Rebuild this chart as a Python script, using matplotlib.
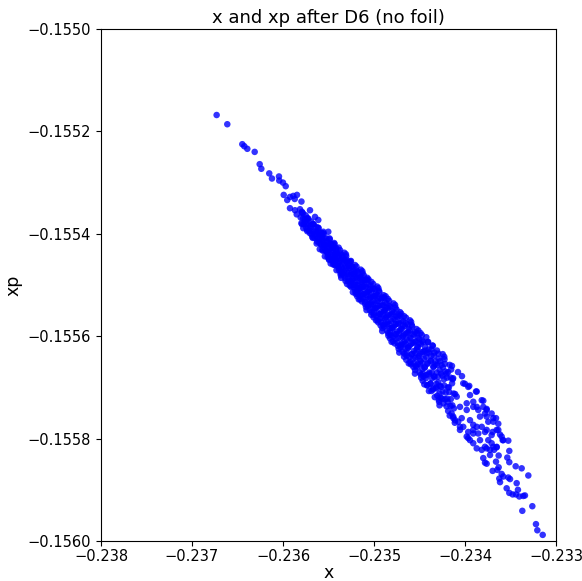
import matplotlib
matplotlib.use("Agg")
import matplotlib.pyplot as plt
from matplotlib.ticker import MultipleLocator, FuncFormatter

# particles in the sparse upper-left head of the distribution
x_head = [-0.236729, -0.236612, -0.236447, -0.236425, -0.236392, -0.236311,
          -0.236256, -0.236238, -0.236151, -0.236121, -0.236044, -0.236041,
          -0.236000, -0.235970, -0.235992, -0.235953, -0.235923, -0.235887,
          -0.235846, -0.235871, -0.235923, -0.235868, -0.235849, -0.235813,
          -0.235797, -0.235777, -0.235703, -0.235648, -0.235703, -0.235612,
          -0.235557, -0.235502]
y_head = [-0.155168, -0.155186, -0.155225, -0.155229, -0.155234, -0.155240,
          -0.155264, -0.155273, -0.155282, -0.155292, -0.155288, -0.155296,
          -0.155300, -0.155307, -0.155324, -0.155334, -0.155328, -0.155326,
          -0.155324, -0.155332, -0.155350, -0.155354, -0.155362, -0.155352,
          -0.155337, -0.155389, -0.155399, -0.155367, -0.155354, -0.155373,
          -0.155396, -0.155396]

# dense core of the band
x_core = [
    -0.235792, -0.235806, -0.235797, -0.235780, -0.235758, -0.235772,
    -0.235732, -0.235746, -0.235737, -0.235720, -0.235698, -0.235712,
    -0.235672, -0.235686, -0.235677, -0.235660, -0.235638, -0.235652,
    -0.235612, -0.235626, -0.235617, -0.235630,
    -0.235578, -0.235592, -0.235582, -0.235596,
    -0.235557, -0.235570, -0.235548, -0.235562,
    -0.235522, -0.235536, -0.235527, -0.235540,
    -0.235488, -0.235502, -0.235492, -0.235506, -0.235497,
    -0.235480, -0.235458, -0.235472, -0.235462, -0.235476,
    -0.235437, -0.235450, -0.235428, -0.235442, -0.235432,
    -0.235416, -0.235407, -0.235420, -0.235398, -0.235412,
    -0.235372, -0.235386, -0.235377, -0.235390, -0.235368,
    -0.235352, -0.235342, -0.235356, -0.235347, -0.235360,
    -0.235308, -0.235322, -0.235312, -0.235326, -0.235317,
    -0.235300, -0.235278, -0.235292, -0.235282, -0.235296,
    -0.235257, -0.235270, -0.235248, -0.235262, -0.235252,
    -0.235236, -0.235227, -0.235240, -0.235218, -0.235232,
    -0.235192, -0.235206, -0.235197, -0.235210, -0.235188, -0.235202,
    -0.235180, -0.235158, -0.235172, -0.235162, -0.235176, -0.235167,
    -0.235128, -0.235142, -0.235132, -0.235146, -0.235137, -0.235150,
    -0.235112, -0.235102, -0.235116, -0.235107, -0.235120, -0.235098,
    -0.235072, -0.235086, -0.235077, -0.235090, -0.235068, -0.235082,
    -0.235060, -0.235038, -0.235052, -0.235042, -0.235056, -0.235047,
    -0.235008, -0.235022, -0.235012, -0.235026, -0.235017, -0.235030,
    -0.234992, -0.234982, -0.234996, -0.234987, -0.235000, -0.234978,
    -0.234952, -0.234966, -0.234957, -0.234970, -0.234948, -0.234962,
    -0.234940, -0.234918, -0.234932, -0.234922, -0.234936, -0.234927,
    -0.234888, -0.234902, -0.234892, -0.234906, -0.234897, -0.234910,
    -0.234872, -0.234862, -0.234876, -0.234867, -0.234880, -0.234858,
    -0.234832, -0.234846, -0.234837, -0.234850, -0.234828, -0.234842,
    -0.234820, -0.234798, -0.234812, -0.234802, -0.234816, -0.234807,
    -0.234768, -0.234782, -0.234772, -0.234786, -0.234777, -0.234790,
    -0.234752, -0.234742, -0.234756, -0.234747, -0.234760, -0.234738,
    -0.234712, -0.234726, -0.234717, -0.234730, -0.234708, -0.234722,
    -0.234700, -0.234678, -0.234692, -0.234682, -0.234696, -0.234687,
    -0.234648, -0.234662, -0.234652, -0.234666, -0.234657, -0.234670,
    -0.234632, -0.234622, -0.234636, -0.234627, -0.234640, -0.234618,
    -0.234592, -0.234606, -0.234597, -0.234610, -0.234588, -0.234602,
    -0.234580, -0.234558, -0.234572, -0.234562, -0.234576, -0.234567,
    -0.234528, -0.234542, -0.234532, -0.234546, -0.234537, -0.234550,
    -0.234512, -0.234502, -0.234516, -0.234507, -0.234520, -0.234498,
    -0.234472, -0.234486, -0.234477, -0.234490, -0.234468, -0.234482,
    -0.234460, -0.234438, -0.234452, -0.234442, -0.234456, -0.234447,
    -0.234408, -0.234422, -0.234412, -0.234426, -0.234417,
    -0.234400, -0.234378, -0.234392, -0.234382, -0.234396,
    -0.234357, -0.234370, -0.234348, -0.234362, -0.234352,
    -0.234336, -0.234327, -0.234340, -0.234318, -0.234332,
    -0.234292, -0.234306, -0.234297, -0.234310, -0.234288,
    -0.234272, -0.234262, -0.234276, -0.234267, -0.234280,
    -0.234228, -0.234242, -0.234232, -0.234246, -0.234237,
    -0.234220, -0.234198, -0.234212, -0.234202,
    -0.234186, -0.234177, -0.234190, -0.234168,
    -0.234152, -0.234142, -0.234156, -0.234147,
    -0.234130, -0.234108, -0.234122, -0.234112,
]
y_core = [
    -0.155357, -0.155368, -0.155379, -0.155360, -0.155371, -0.155381,
    -0.155369, -0.155381, -0.155392, -0.155371, -0.155384, -0.155394,
    -0.155381, -0.155394, -0.155406, -0.155382, -0.155396, -0.155408,
    -0.155388, -0.155398, -0.155409, -0.155419,
    -0.155398, -0.155409, -0.155420, -0.155430,
    -0.155399, -0.155410, -0.155422, -0.155433,
    -0.155409, -0.155422, -0.155433, -0.155444,
    -0.155409, -0.155419, -0.155429, -0.155440, -0.155449,
    -0.155419, -0.155430, -0.155441, -0.155451, -0.155458,
    -0.155418, -0.155428, -0.155439, -0.155449, -0.155460,
    -0.155428, -0.155439, -0.155451, -0.155462, -0.155471,
    -0.155432, -0.155443, -0.155454, -0.155466, -0.155477,
    -0.155442, -0.155454, -0.155466, -0.155478, -0.155486,
    -0.155440, -0.155451, -0.155463, -0.155475, -0.155487,
    -0.155451, -0.155463, -0.155476, -0.155488, -0.155498,
    -0.155454, -0.155467, -0.155479, -0.155492, -0.155504,
    -0.155465, -0.155479, -0.155492, -0.155505, -0.155514,
    -0.155464, -0.155475, -0.155485, -0.155496, -0.155506, -0.155517,
    -0.155474, -0.155485, -0.155496, -0.155507, -0.155518, -0.155528,
    -0.155473, -0.155484, -0.155495, -0.155506, -0.155517, -0.155528,
    -0.155481, -0.155492, -0.155503, -0.155515, -0.155526, -0.155537,
    -0.155491, -0.155503, -0.155515, -0.155526, -0.155538, -0.155549,
    -0.155489, -0.155501, -0.155513, -0.155525, -0.155537, -0.155549,
    -0.155498, -0.155510, -0.155522, -0.155534, -0.155546, -0.155558,
    -0.155508, -0.155521, -0.155533, -0.155545, -0.155558, -0.155569,
    -0.155506, -0.155519, -0.155531, -0.155544, -0.155556, -0.155569,
    -0.155514, -0.155527, -0.155540, -0.155553, -0.155566, -0.155579,
    -0.155525, -0.155539, -0.155552, -0.155565, -0.155578, -0.155590,
    -0.155522, -0.155536, -0.155549, -0.155563, -0.155576, -0.155589,
    -0.155531, -0.155545, -0.155558, -0.155572, -0.155585, -0.155599,
    -0.155543, -0.155556, -0.155570, -0.155584, -0.155598, -0.155611,
    -0.155539, -0.155553, -0.155567, -0.155582, -0.155595, -0.155610,
    -0.155548, -0.155562, -0.155576, -0.155591, -0.155605, -0.155619,
    -0.155560, -0.155574, -0.155589, -0.155603, -0.155618, -0.155632,
    -0.155556, -0.155571, -0.155585, -0.155600, -0.155615, -0.155630,
    -0.155564, -0.155580, -0.155595, -0.155610, -0.155625, -0.155640,
    -0.155577, -0.155592, -0.155607, -0.155623, -0.155638, -0.155653,
    -0.155572, -0.155588, -0.155603, -0.155619, -0.155635, -0.155651,
    -0.155581, -0.155597, -0.155613, -0.155629, -0.155645, -0.155660,
    -0.155594, -0.155610, -0.155626, -0.155642, -0.155658, -0.155673,
    -0.155589, -0.155605, -0.155621, -0.155638, -0.155654, -0.155671,
    -0.155598, -0.155615, -0.155631, -0.155648, -0.155664, -0.155681,
    -0.155611, -0.155628, -0.155644, -0.155661, -0.155678, -0.155694,
    -0.155612, -0.155633, -0.155654, -0.155676, -0.155696,
    -0.155626, -0.155648, -0.155671, -0.155693, -0.155707,
    -0.155618, -0.155638, -0.155660, -0.155682, -0.155704,
    -0.155632, -0.155655, -0.155678, -0.155700, -0.155719,
    -0.155634, -0.155656, -0.155679, -0.155702, -0.155724,
    -0.155649, -0.155673, -0.155697, -0.155720, -0.155735,
    -0.155640, -0.155661, -0.155684, -0.155708, -0.155731,
    -0.155654, -0.155681, -0.155710, -0.155737,
    -0.155670, -0.155700, -0.155728, -0.155755,
    -0.155665, -0.155692, -0.155723, -0.155751,
    -0.155682, -0.155713, -0.155741, -0.155769,
]

# second, interleaved set of particles in the core
x_mid = [
    -0.235789, -0.235778, -0.235793, -0.235750, -0.235755, -0.235745,
    -0.235729, -0.235718, -0.235733, -0.235690, -0.235695, -0.235685,
    -0.235669, -0.235658, -0.235673, -0.235630, -0.235635, -0.235625,
    -0.235609, -0.235598, -0.235613, -0.235600,
    -0.235575, -0.235565, -0.235579, -0.235568,
    -0.235553, -0.235540, -0.235545, -0.235535,
    -0.235519, -0.235508, -0.235523, -0.235510,
    -0.235485, -0.235475, -0.235489, -0.235478, -0.235493,
    -0.235450, -0.235455, -0.235445, -0.235459, -0.235448,
    -0.235433, -0.235420, -0.235425, -0.235415, -0.235429,
    -0.235388, -0.235403, -0.235390, -0.235395, -0.235385,
    -0.235369, -0.235358, -0.235373, -0.235360, -0.235365,
    -0.235325, -0.235339, -0.235328, -0.235343, -0.235330,
    -0.235305, -0.235295, -0.235309, -0.235298, -0.235313,
    -0.235270, -0.235275, -0.235265, -0.235279, -0.235268,
    -0.235253, -0.235240, -0.235245, -0.235235, -0.235249,
    -0.235208, -0.235223, -0.235210, -0.235215, -0.235205,
    -0.235189, -0.235178, -0.235193, -0.235180, -0.235185,
    -0.235145, -0.235159, -0.235148, -0.235163, -0.235150,
    -0.235125, -0.235115, -0.235129, -0.235118, -0.235133,
    -0.235090, -0.235095, -0.235085, -0.235099, -0.235088,
    -0.235073, -0.235060, -0.235065, -0.235055, -0.235069,
    -0.235028, -0.235043, -0.235030, -0.235035, -0.235025,
    -0.235009, -0.234998, -0.235013, -0.235000, -0.235005,
    -0.234965, -0.234979, -0.234968, -0.234983, -0.234970,
    -0.234945, -0.234935, -0.234949, -0.234938, -0.234953,
    -0.234910, -0.234915, -0.234905, -0.234919, -0.234908,
    -0.234893, -0.234880, -0.234885, -0.234875, -0.234889,
    -0.234848, -0.234863, -0.234850, -0.234855, -0.234845,
    -0.234829, -0.234818, -0.234833, -0.234820, -0.234825,
    -0.234785, -0.234799, -0.234788, -0.234803, -0.234790,
    -0.234765, -0.234755, -0.234769, -0.234758, -0.234773,
    -0.234730, -0.234735, -0.234725, -0.234739, -0.234728,
    -0.234713, -0.234700, -0.234705, -0.234695, -0.234709,
    -0.234668, -0.234683, -0.234670, -0.234675, -0.234665,
    -0.234649, -0.234638, -0.234653, -0.234640, -0.234645,
    -0.234605, -0.234619, -0.234608, -0.234623, -0.234610,
    -0.234585, -0.234575, -0.234589, -0.234578, -0.234593,
    -0.234550, -0.234555, -0.234545, -0.234559, -0.234548,
    -0.234533, -0.234520, -0.234525, -0.234515, -0.234529,
    -0.234488, -0.234503, -0.234490, -0.234495, -0.234485,
    -0.234469, -0.234458, -0.234473, -0.234460, -0.234465,
    -0.234425, -0.234439, -0.234428, -0.234443, -0.234430,
    -0.234405, -0.234395, -0.234409, -0.234398, -0.234413,
    -0.234370, -0.234375, -0.234365, -0.234379, -0.234368,
    -0.234353, -0.234340, -0.234345, -0.234335, -0.234349,
    -0.234308, -0.234323, -0.234310, -0.234315, -0.234305,
    -0.234289, -0.234278, -0.234293, -0.234280, -0.234285,
    -0.234245, -0.234259, -0.234248, -0.234263, -0.234250,
    -0.234225, -0.234215, -0.234229, -0.234218,
    -0.234203, -0.234190, -0.234195, -0.234185,
    -0.234169, -0.234158, -0.234173, -0.234160,
    -0.234135, -0.234125, -0.234139, -0.234128,
]
y_mid = [
    -0.155359, -0.155370, -0.155381, -0.155364, -0.155376, -0.155388,
    -0.155370, -0.155382, -0.155395, -0.155376, -0.155388, -0.155401,
    -0.155381, -0.155395, -0.155408, -0.155387, -0.155401, -0.155415,
    -0.155389, -0.155398, -0.155408, -0.155418,
    -0.155403, -0.155413, -0.155422, -0.155431,
    -0.155400, -0.155410, -0.155421, -0.155432,
    -0.155415, -0.155426, -0.155435, -0.155445,
    -0.155411, -0.155420, -0.155430, -0.155441, -0.155451,
    -0.155421, -0.155432, -0.155443, -0.155453, -0.155460,
    -0.155420, -0.155430, -0.155440, -0.155450, -0.155461,
    -0.155427, -0.155438, -0.155449, -0.155460, -0.155471,
    -0.155438, -0.155450, -0.155462, -0.155473, -0.155481,
    -0.155437, -0.155447, -0.155458, -0.155469, -0.155481,
    -0.155444, -0.155456, -0.155467, -0.155479, -0.155492,
    -0.155455, -0.155468, -0.155481, -0.155493, -0.155501,
    -0.155453, -0.155464, -0.155476, -0.155488, -0.155501,
    -0.155461, -0.155473, -0.155486, -0.155499, -0.155512,
    -0.155472, -0.155486, -0.155500, -0.155513, -0.155522,
    -0.155470, -0.155482, -0.155494, -0.155507, -0.155521,
    -0.155477, -0.155491, -0.155504, -0.155518, -0.155532,
    -0.155489, -0.155504, -0.155519, -0.155533, -0.155543,
    -0.155486, -0.155499, -0.155513, -0.155527, -0.155541,
    -0.155494, -0.155508, -0.155523, -0.155538, -0.155553,
    -0.155507, -0.155522, -0.155538, -0.155553, -0.155563,
    -0.155503, -0.155517, -0.155531, -0.155546, -0.155561,
    -0.155511, -0.155526, -0.155541, -0.155557, -0.155573,
    -0.155524, -0.155540, -0.155557, -0.155573, -0.155584,
    -0.155520, -0.155534, -0.155549, -0.155565, -0.155581,
    -0.155527, -0.155544, -0.155560, -0.155577, -0.155594,
    -0.155541, -0.155558, -0.155576, -0.155593, -0.155604,
    -0.155536, -0.155551, -0.155567, -0.155584, -0.155601,
    -0.155544, -0.155561, -0.155578, -0.155596, -0.155614,
    -0.155558, -0.155576, -0.155595, -0.155613, -0.155625,
    -0.155553, -0.155569, -0.155586, -0.155603, -0.155621,
    -0.155561, -0.155579, -0.155597, -0.155616, -0.155634,
    -0.155575, -0.155594, -0.155614, -0.155633, -0.155646,
    -0.155569, -0.155586, -0.155604, -0.155622, -0.155641,
    -0.155578, -0.155596, -0.155615, -0.155635, -0.155655,
    -0.155592, -0.155612, -0.155633, -0.155653, -0.155666,
    -0.155586, -0.155603, -0.155622, -0.155642, -0.155661,
    -0.155594, -0.155614, -0.155634, -0.155654, -0.155675,
    -0.155609, -0.155630, -0.155652, -0.155673, -0.155687,
    -0.155602, -0.155621, -0.155640, -0.155661, -0.155682,
    -0.155611, -0.155632, -0.155652, -0.155674, -0.155696,
    -0.155626, -0.155648, -0.155671, -0.155692, -0.155707,
    -0.155619, -0.155638, -0.155659, -0.155680, -0.155702,
    -0.155628, -0.155649, -0.155671, -0.155693, -0.155716,
    -0.155644, -0.155666, -0.155690, -0.155712, -0.155728,
    -0.155635, -0.155656, -0.155677, -0.155699, -0.155722,
    -0.155645, -0.155669, -0.155696, -0.155723,
    -0.155673, -0.155700, -0.155722, -0.155746,
    -0.155656, -0.155681, -0.155709, -0.155736,
    -0.155684, -0.155712, -0.155735, -0.155760,
]

# sparser lower-right tail
x_tail = [-0.233146, -0.233205, -0.233220, -0.233260, -0.233370, -0.233341,
          -0.233403, -0.233440, -0.233418, -0.233476, -0.233513, -0.233542,
          -0.233432, -0.233304, -0.233377, -0.233443, -0.233524, -0.233579,
          -0.233615, -0.233623, -0.233645, -0.233630, -0.233696, -0.233659,
          -0.233535, -0.233630, -0.233513, -0.233524, -0.233586, -0.233652,
          -0.233780, -0.233799, -0.233725, -0.233681, -0.233615, -0.233652,
          -0.233696, -0.233634, -0.233659, -0.233707, -0.233762, -0.233799,
          -0.233799, -0.233744, -0.233835, -0.233871, -0.233879, -0.233953,
          -0.234000, -0.233945, -0.233909, -0.233945, -0.233981, -0.233909,
          -0.233871, -0.233816, -0.233854, -0.234019, -0.234055, -0.234074,
          -0.234129, -0.233513, -0.233597, -0.233505, -0.233359, -0.233762,
          -0.233725, -0.233689, -0.233597, -0.233689, -0.233762, -0.233909,
          -0.233981, -0.234036, -0.233945, -0.233909, -0.233816, -0.233780,
          -0.233835, -0.233744, -0.233707, -0.233762, -0.233909, -0.233964,
          -0.233780, -0.233854,
          -0.234019, -0.233964, -0.233871, -0.233816, -0.234091, -0.234055,
          -0.233981, -0.233762, -0.233689, -0.233634, -0.233579, -0.233871,
          -0.233762, -0.233707, -0.233780, -0.233909, -0.233964, -0.234055,
          -0.234110, -0.233652, -0.234077, -0.234033, -0.234143]
y_tail = [-0.155988, -0.155979, -0.155967, -0.155932, -0.155941, -0.155911,
          -0.155913, -0.155909, -0.155900, -0.155909, -0.155906, -0.155897,
          -0.155887, -0.155872, -0.155858, -0.155854, -0.155876, -0.155874,
          -0.155885, -0.155878, -0.155861, -0.155856, -0.155863, -0.155845,
          -0.155837, -0.155833, -0.155824, -0.155804, -0.155803, -0.155817,
          -0.155847, -0.155838, -0.155832, -0.155822, -0.155792, -0.155783,
          -0.155787, -0.155771, -0.155760, -0.155751, -0.155742, -0.155726,
          -0.155738, -0.155767, -0.155757, -0.155738, -0.155708, -0.155697,
          -0.155693, -0.155715, -0.155728, -0.155803, -0.155796, -0.155809,
          -0.155819, -0.155822, -0.155790, -0.155777, -0.155783, -0.155767,
          -0.155757, -0.155846, -0.155869, -0.155879, -0.155912, -0.155849,
          -0.155822, -0.155816, -0.155796, -0.155760, -0.155757, -0.155738,
          -0.155744, -0.155760, -0.155764, -0.155773, -0.155777, -0.155787,
          -0.155803, -0.155803, -0.155809, -0.155819, -0.155783, -0.155787,
          -0.155751, -0.155744,
          -0.155692, -0.155699, -0.155708, -0.155725, -0.155718, -0.155738,
          -0.155731, -0.155744, -0.155767, -0.155783, -0.155803, -0.155777,
          -0.155783, -0.155793, -0.155816, -0.155790, -0.155799, -0.155777,
          -0.155764, -0.155816, -0.155670, -0.155678, -0.155658]

xs = x_head + x_core + x_mid + x_tail
ys = y_head + y_core + y_mid + y_tail

fig = plt.figure(figsize=(5.82, 5.81), dpi=100)
ax = fig.add_axes([0.1735, 0.0688, 0.7818, 0.8813])
ax.scatter(xs, ys, s=22, c="blue", alpha=0.8, edgecolors="none")

ax.set_xlim(-0.238, -0.233)
ax.set_ylim(-0.1560, -0.1550)
ax.xaxis.set_major_locator(MultipleLocator(0.001))
ax.yaxis.set_major_locator(MultipleLocator(0.0002))
ax.xaxis.set_major_formatter(FuncFormatter(lambda v, p: f"{v:.3f}".replace("-", "\u2212")))
ax.yaxis.set_major_formatter(FuncFormatter(lambda v, p: f"{v:.4f}".replace("-", "\u2212")))
ax.tick_params(labelsize=10.5)
ax.tick_params(axis="x", pad=2)

ax.set_xlabel("x", fontsize=12.5, labelpad=0)
ax.set_ylabel("xp", fontsize=12.5)
ax.set_title("x and xp after D6 (no foil)", fontsize=13, pad=4)

fig.savefig("out.png", dpi=100)
